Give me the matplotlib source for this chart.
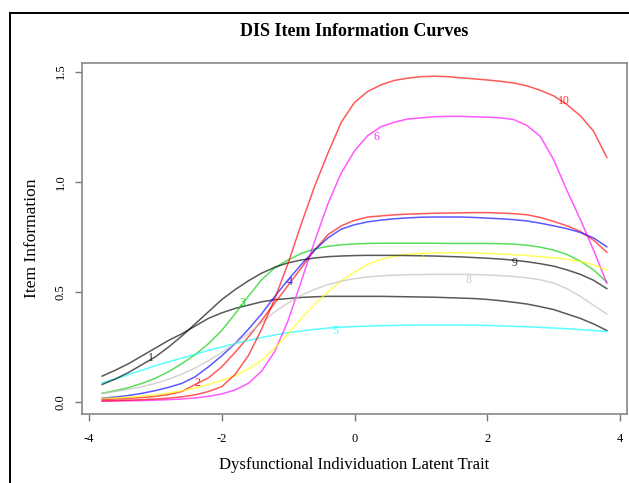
import numpy as np
import matplotlib
matplotlib.use("Agg")
import matplotlib.pyplot as plt
from matplotlib.lines import Line2D

plt.rcParams["font.family"] = ["Liberation Serif", "DejaVu Serif"]

# latent trait grid the curves were read at
theta = np.round(np.arange(-3.8, 3.81, 0.2), 1)

item1 = [.118, .145, .175, .21, .245, .28, .31, .345, .38, .405, .425, .44, .455, .465, .47,
         .475, .478, .48, .48, .48, .48, .48, .479, .478, .477, .476, .474, .472, .47, .466,
         .46, .453, .445, .433, .42, .40, .38, .355, .325]
item2 = [.012, .014, .017, .021, .026, .034, .048, .08, .11, .16, .225, .295, .37, .45, .53,
         .61, .69, .76, .80, .825, .84, .845, .85, .853, .855, .857, .858, .859, .86, .86,
         .858, .855, .85, .838, .82, .80, .775, .735, .68]
item3 = [.04, .052, .066, .085, .108, .138, .175, .215, .265, .325, .40, .48, .555, .61, .645,
         .675, .695, .707, .714, .718, .72, .721, .721, .721, .721, .721, .72, .72, .72, .72,
         .719, .717, .712, .703, .69, .67, .64, .60, .545]
item4 = [.018, .023, .03, .04, .052, .067, .085, .115, .16, .21, .265, .33, .40, .48, .555,
         .625, .69, .745, .785, .805, .818, .826, .832, .836, .839, .84, .84, .84, .838, .835,
         .832, .828, .822, .812, .80, .787, .77, .745, .705]
item5 = [.088, .105, .125, .145, .165, .183, .20, .217, .235, .25, .265, .28, .293, .305, .315,
         .323, .33, .336, .34, .343, .345, .347, .348, .349, .35, .35, .35, .35, .349, .348,
         .346, .344, .342, .339, .336, .333, .329, .325, .32]
item6 = [.004, .005, .006, .007, .009, .011, .014, .019, .026, .037, .055, .085, .14, .23, .37,
         .55, .73, .90, 1.04, 1.14, 1.21, 1.25, 1.27, 1.285, 1.29, 1.295, 1.297, 1.297, 1.295,
         1.293, 1.29, 1.282, 1.255, 1.205, 1.10, .96, .83, .69, .54]
item7 = [.017, .019, .022, .027, .033, .041, .051, .064, .08, .098, .12, .15, .19, .245, .31,
         .38, .445, .50, .55, .59, .625, .648, .662, .67, .675, .677, .678, .678, .677, .675,
         .672, .669, .665, .66, .655, .648, .638, .623, .60]
item8 = [.04, .048, .058, .07, .085, .104, .127, .155, .188, .225, .265, .31, .36, .41, .45,
         .485, .512, .533, .549, .56, .568, .573, .576, .578, .579, .58, .58, .58, .579, .577,
         .574, .57, .564, .555, .54, .515, .48, .44, .40]
item9 = [.08, .105, .135, .17, .205, .25, .30, .355, .41, .465, .51, .55, .585, .612, .632,
         .645, .654, .66, .663, .665, .666, .666, .666, .665, .664, .663, .661, .659, .656,
         .653, .649, .644, .637, .628, .617, .60, .58, .553, .515]
item10 = [.006, .007, .009, .011, .014, .018, .024, .033, .048, .07, .125, .21, .33, .47, .63,
          .81, .98, 1.13, 1.27, 1.36, 1.41, 1.44, 1.46, 1.47, 1.477, 1.479, 1.477, 1.472,
          1.467, 1.462, 1.456, 1.448, 1.435, 1.415, 1.39, 1.35, 1.30, 1.23, 1.11]

items = [item1, item2, item3, item4, item5, item6, item7, item8, item9, item10]
item_names = ["1", "2", "3", "4", "5", "6", "7", "8", "9", "10"]
# where the item numbers sit in the chart
label_x = [-3.06, -2.36, -1.69, -0.98, -0.29, 0.33, 1.01, 1.72, 2.41, 3.15]
label_y = [0.199, 0.085, 0.449, 0.544, 0.321, 1.203, 0.653, 0.553, 0.63, 1.367]

# old R palette, recycled for items 9 and 10
colors = ["black", "red", "#00CD00", "blue", "cyan", "magenta", "yellow", "#BEBEBE",
          "black", "red"]

fig = plt.figure(figsize=(6.29, 4.83), dpi=100)
ax = fig.add_axes([82 / 629, 1 - 414 / 483, 545 / 629, 351 / 483])

for vals, col, name, lx, ly in zip(items, colors, item_names, label_x, label_y):
    ax.plot(theta, vals, color=col, lw=1.1, alpha=0.65)
    ax.text(lx, ly, name, color=col, alpha=0.8, fontsize=8.5, ha="center", va="center")

ax.set_xlim(-4.104, 4.104)
ax.set_ylim(-0.054, 1.539)
ax.set_xticks([-4, -2, 0, 2, 4])
ax.set_xticklabels(["-4", "-2", "0", "2", "4"])
ax.set_yticks([0.0, 0.5, 1.0, 1.5])
ax.set_yticklabels(["0.0", "0.5", "1.0", "1.5"], rotation=90, va="center")
ax.tick_params(direction="out", length=5, width=1, color="#777777", labelsize=9)
ax.tick_params(axis="x", pad=9)
ax.tick_params(axis="y", pad=6)
for sp in ax.spines.values():
    sp.set_color("#888888")
    sp.set_linewidth(1.2)

ax.set_xlabel("Dysfunctional Individuation Latent Trait", fontsize=12)
ax.xaxis.set_label_coords(0.5, -0.145)
ax.xaxis.label.set_va("center")
ax.set_ylabel("Item Information", fontsize=12.5)
ax.yaxis.set_label_coords(-0.092, 0.5)
ax.yaxis.label.set_va("center")

fig.text(354 / 629, 1 - 32 / 483, "DIS Item Information Curves", fontsize=13,
         fontweight="bold", ha="center", va="center")

# black frame of the screenshot
fig.add_artist(Line2D([9.5 / 629, 9.5 / 629], [0, 1 - 12.5 / 483], color="black", lw=1.4,
                      transform=fig.transFigure))
fig.add_artist(Line2D([9.5 / 629, 1], [1 - 12.5 / 483, 1 - 12.5 / 483], color="black", lw=1.4,
                      transform=fig.transFigure))

fig.savefig("out.png", dpi=100)
